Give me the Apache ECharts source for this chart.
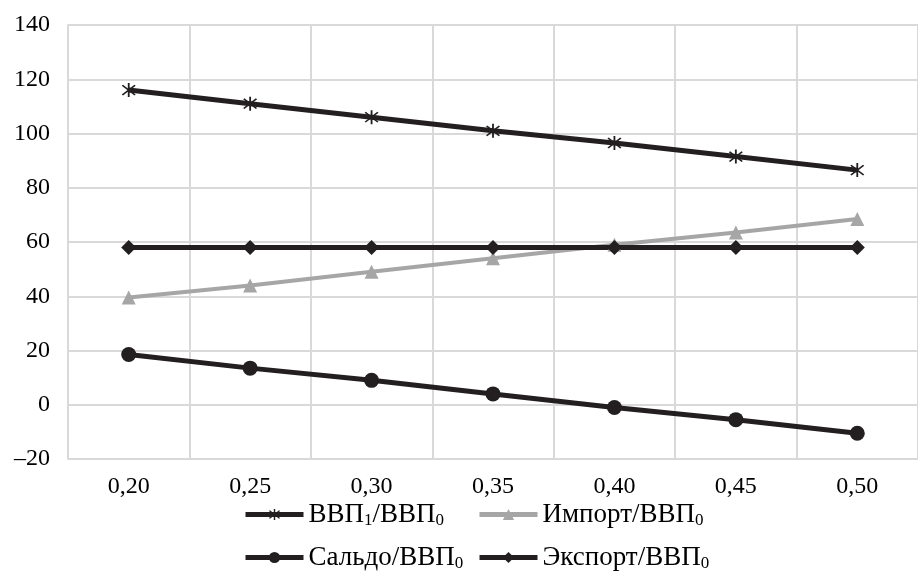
<!DOCTYPE html>
<html><head><meta charset="utf-8">
<script src="https://cdn.jsdelivr.net/npm/echarts@6/dist/echarts.min.js"></script>
<style>html,body{margin:0;padding:0;background:#fff}#c{width:918px;height:572px}</style>
</head><body><div id="c"></div>
<script>
const categories = ['0,20','0,25','0,30','0,35','0,40','0,45','0,50'];
const gdpRatio = [116, 111, 106, 101, 96.5, 91.5, 86.5];
const importRatio = [39.5, 44, 49, 54, 59, 63.5, 68.5];
const saldoRatio = [18.5, 13.5, 9, 4, -1, -5.5, -10.5];
const exportRatio = [58, 58, 58, 58, 58, 58, 58];
const names = ['ВВП1/ВВП0','Импорт/ВВП0','Сальдо/ВВП0','Экспорт/ВВП0'];
const labels = {
  'ВВП1/ВВП0': '{t|ВВП}{s|1}{t|/ВВП}{s|0}',
  'Импорт/ВВП0': '{t|Импорт/ВВП}{s|0}',
  'Сальдо/ВВП0': '{t|Сальдо/ВВП}{s|0}',
  'Экспорт/ВВП0': '{t|Экспорт/ВВП}{s|0}'
};
const dark = '#231f20', gray = '#a6a6a6';
const star = 'path://M-1,-10 L1,-10 L1,10 L-1,10 Z M-6.3,-7.7 L7.7,6.3 L6.3,7.7 L-7.7,-6.3 Z M7.7,-6.3 L-6.3,7.7 L-7.7,6.3 L6.3,-7.7 Z';
const font = '"Liberation Serif","Times New Roman",serif';
const rich = {
  t: {fontFamily: font, fontSize: 27, color: '#000', lineHeight: 30},
  s: {fontFamily: font, fontSize: 17, color: '#000', padding: [12,0,0,0], lineHeight: 30}
};
function leg(name, left, top) {
  return {
    data: [name], left: left, top: top, padding: 0,
    itemWidth: 58, itemHeight: 14, itemGap: 0,
    lineStyle: {width: 5},
    textStyle: {fontFamily: font, fontSize: 27, color: '#000', rich: rich},
    formatter: n => labels[n]
  };
}
const chart = echarts.init(document.getElementById('c'), null, {renderer: 'canvas'});
chart.setOption({
  animation: false,
  textStyle: {fontFamily: font},
  grid: {left: 68, top: 25, width: 861, height: 434, containLabel: false},
  legend: [
    leg(names[0], 243, 500),
    leg(names[1], 477, 500),
    leg(names[2], 243, 543),
    leg(names[3], 477, 543)
  ],
  xAxis: {
    type: 'category', data: categories, boundaryGap: true,
    axisLine: {show: true, lineStyle: {color: '#d9d9d9', width: 2}},
    axisTick: {show: false},
    splitLine: {show: true, interval: 0, lineStyle: {color: '#d9d9d9', width: 2}},
    axisLabel: {fontFamily: font, fontSize: 24, color: '#000', margin: 16}
  },
  yAxis: {
    type: 'value', min: -20, max: 140, interval: 20,
    axisLine: {show: true, lineStyle: {color: '#d9d9d9', width: 2}},
    axisTick: {show: false},
    splitLine: {show: true, lineStyle: {color: '#d9d9d9', width: 2}},
    axisLabel: {fontFamily: font, fontSize: 24, color: '#000', margin: 18,
      formatter: v => v < 0 ? '\u2013' + Math.abs(v) : String(v)}
  },
  series: [
    {name: names[0], type: 'line', data: gdpRatio, symbol: star, symbolSize: 14,
     lineStyle: {color: dark, width: 5}, itemStyle: {color: dark}},
    {name: names[1], type: 'line', data: importRatio, symbol: 'triangle', symbolSize: 14,
     lineStyle: {color: gray, width: 4}, itemStyle: {color: gray}},
    {name: names[2], type: 'line', data: saldoRatio, symbol: 'circle', symbolSize: 15,
     lineStyle: {color: dark, width: 5}, itemStyle: {color: dark}},
    {name: names[3], type: 'line', data: exportRatio, symbol: 'diamond', symbolSize: 15,
     lineStyle: {color: dark, width: 5}, itemStyle: {color: dark}}
  ]
});
</script></body></html>
